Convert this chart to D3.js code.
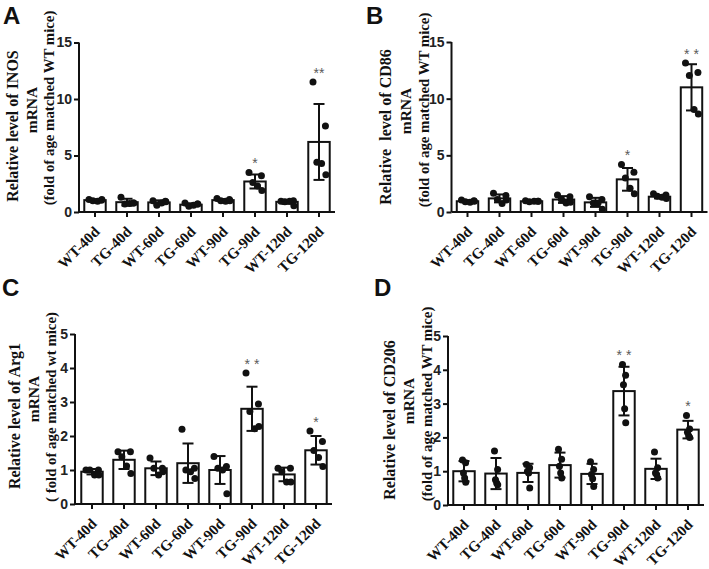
<!DOCTYPE html>
<html><head><meta charset="utf-8">
<script src="https://cdnjs.cloudflare.com/ajax/libs/d3/7.8.5/d3.min.js"></script>
<style>
html,body{margin:0;padding:0;background:#fff;}
svg{display:block;}
</style></head>
<body>
<script>
// ---------- data ----------
const categories = ["WT-40d","TG-40d","WT-60d","TG-60d","WT-90d","TG-90d","WT-120d","TG-120d"];

const inosMeans = [1.05, 0.87, 0.85, 0.65, 1.05, 2.7, 0.9, 6.2];
const inosSD    = [0.08, 0.3, 0.18, 0.12, 0.1, 0.62, 0.17, 3.36];
const inosPoints = [[1.1,1.05,1.0,0.95,1.1],[1.3,0.8,0.7,0.75,0.8],[1.0,0.95,0.6,0.8,0.9],[0.8,0.7,0.5,0.6,0.7],[1.2,1.1,1.0,0.95,1.0],[3.5,3.2,2.6,2.3,1.9],[0.95,1.0,0.9,0.95,0.55],[11.5,7.6,4.4,4.3,3.3]];
const inosSig = ["","","","","","*","","**"];

const cd86Means = [0.95, 1.2, 0.95, 1.1, 0.85, 2.88, 1.35, 11.0];
const cd86SD    = [0.08, 0.35, 0.05, 0.3, 0.4, 1.0, 0.15, 2.04];
const cd86Points = [[1.05,1.0,0.9,0.85,0.95],[1.65,1.45,1.1,0.75,1.05],[1.0,0.95,0.9,0.95,0.95],[1.5,1.35,1.1,0.8,0.85],[1.35,1.1,0.8,0.8,0.25],[4.2,3.5,3.0,2.1,1.6],[1.6,1.5,1.4,1.3,1.2],[13.15,12.3,12.05,9.05,8.65]];
const cd86Sig = ["","","","","","*","","* *"];

const arg1Means = [0.95, 1.3, 1.05, 1.2, 1.0, 2.8, 0.87, 1.58];
const arg1SD    = [0.08, 0.27, 0.2, 0.58, 0.41, 0.65, 0.2, 0.42];
const arg1Points = [[1.0,1.0,1.0,0.85,0.85],[1.54,1.54,1.39,1.12,0.9],[1.35,1.05,1.05,0.85,0.95],[2.2,1.05,1.0,0.95,0.75],[1.4,1.1,1.05,1.0,0.3],[3.85,2.94,2.72,2.21,2.28],[1.05,1.05,0.95,0.65,0.65],[2.15,1.84,1.57,1.37,1.1]];
const arg1Sig = ["","","","","","* *","","*"];

const cd206Means = [1.0, 0.93, 0.95, 1.18, 0.92, 3.37, 1.07, 2.23];
const cd206SD    = [0.3, 0.46, 0.27, 0.37, 0.3, 0.72, 0.3, 0.26];
const cd206Points = [[1.33,1.25,0.95,0.8,0.67],[1.6,1.05,0.75,0.65,0.6],[1.2,1.1,1.0,0.95,0.5],[1.65,1.35,1.15,0.95,0.8],[1.28,1.05,0.9,0.78,0.55],[4.16,3.84,3.56,2.85,2.43],[1.57,1.1,0.95,0.9,0.8],[2.65,2.25,2.15,2.05,2.0]];
const cd206Sig = ["","","","","","* *","","*"];

const ticks15 = [0, 5, 10, 15];
const ticks5 = [0, 1, 2, 3, 4, 5];

// ---------- layout ----------
const W = 709, H = 569;
const svg = d3.select("body").append("svg").attr("width", W).attr("height", H);

const panels = [
  {letter:"A", lx:3, ly:24, axisX:79, band:[79,335], y0:212, yTop:42.5, max:15, ticks:ticks15,
   means:inosMeans, sd:inosSD, pts:inosPoints, sig:inosSig, jit:1,
   labels:["Relative level of INOS","mRNA","(fold of age matched WT mice)"],
   labX:[12,31,49], labY:[126,110,108]},
  {letter:"B", lx:366, ly:24, axisX:451.5, band:[451.5,707.5], y0:212, yTop:42, max:15, ticks:ticks15,
   means:cd86Means, sd:cd86SD, pts:cd86Points, sig:cd86Sig, jit:1,
   labels:["Relative  level of CD86","mRNA","(fold of age matched WT mice)"],
   labX:[385,405,424], labY:[127,111,110]},
  {letter:"C", lx:2, ly:296, axisX:75, band:[76,332], y0:504, yTop:334, max:5, ticks:ticks5,
   means:arg1Means, sd:arg1SD, pts:arg1Points, sig:arg1Sig, jit:1,
   labels:["Relative level of Arg1","mRNA","( fold of age matched wt mice)"],
   labX:[14,33,51], labY:[416,399,407]},
  {letter:"D", lx:374, ly:296, axisX:448, band:[448,704], y0:505, yTop:336, max:5, ticks:ticks5,
   means:cd206Means, sd:cd206SD, pts:cd206Points, sig:cd206Sig, jit:0.25,
   labels:["Relative level of CD206","mRNA","(fold of age matched WT mice)"],
   labX:[389,408,427], labY:[420,401,404]}
];

const jitterPattern = [-0.28, 0.3, -0.1, 0.12, 0.32];

panels.forEach(p => {
  const g = svg.append("g");
  const x = d3.scaleBand().domain(categories).range(p.band).paddingInner(0.33).paddingOuter(0.165);
  const y = d3.scaleLinear().domain([0, p.max]).range([p.y0, p.yTop]);
  const bw = x.bandwidth();

  // panel letter
  svg.append("text").attr("x", p.lx).attr("y", p.ly)
    .attr("font-family", "Arial, 'Liberation Sans', sans-serif").attr("font-weight", "bold")
    .attr("font-size", 24).attr("fill", "#111").text(p.letter);

  // bars
  g.selectAll("rect.bar").data(categories).join("rect")
    .attr("x", d => x(d)).attr("width", bw)
    .attr("y", (d,i) => y(p.means[i])).attr("height", (d,i) => y(0) - y(p.means[i]))
    .attr("fill", "#fff").attr("stroke", "#111").attr("stroke-width", 2);

  // error bars
  categories.forEach((c, i) => {
    const cx = x(c) + bw/2;
    const hi = y(p.means[i] + p.sd[i]), lo = y(Math.max(0, p.means[i] - p.sd[i]));
    g.append("line").attr("x1", cx).attr("x2", cx).attr("y1", hi).attr("y2", lo)
      .attr("stroke", "#111").attr("stroke-width", 2);
    [hi, lo].forEach(yy => g.append("line").attr("x1", cx-5.5).attr("x2", cx+5.5)
      .attr("y1", yy).attr("y2", yy).attr("stroke", "#111").attr("stroke-width", 2));
    // points
    p.pts[i].forEach((v, k) => {
      g.append("circle").attr("cx", cx + jitterPattern[k]*bw*p.jit).attr("cy", y(v))
        .attr("r", 3.5).attr("fill", "#111");
    });
    // significance
    if (p.sig[i]) {
      const top = Math.min(y(p.means[i] + p.sd[i]), y(d3.max(p.pts[i])));
      g.append("text").attr("x", cx).attr("y", top - 4)
        .attr("text-anchor", "middle").attr("font-family", "Arial, 'Liberation Sans', sans-serif")
        .attr("font-size", 14).attr("fill", "#5a5a5a").text(p.sig[i]);
    }
  });

  // y axis
  const ya = d3.axisLeft(y).tickValues(p.ticks).tickSize(5).tickPadding(2).tickFormat(d3.format("d"));
  const yg = g.append("g").attr("transform", `translate(${p.axisX},0)`).call(ya);
  yg.select(".domain").attr("d", `M0,${p.yTop}V${p.y0}`).attr("stroke", "#111").attr("stroke-width", 2);
  yg.selectAll(".tick line").attr("stroke", "#111").attr("stroke-width", 2);
  yg.selectAll(".tick text").attr("font-family", "Arial, 'Liberation Sans', sans-serif")
    .attr("font-weight", "bold").attr("font-size", 14).attr("fill", "#222");

  // x axis
  const xa = d3.axisBottom(x).tickSize(5).tickSizeOuter(0);
  const xg = g.append("g").attr("transform", `translate(0,${p.y0})`).call(xa);
  xg.select(".domain").attr("d", `M${p.axisX},0H${p.band[1]}`).attr("stroke", "#111").attr("stroke-width", 2);
  xg.selectAll(".tick line").attr("stroke", "#111").attr("stroke-width", 2);
  xg.selectAll(".tick text")
    .attr("font-family", "'Liberation Serif', 'Times New Roman', serif").attr("font-weight", "bold")
    .attr("font-size", 15).attr("fill", "#111")
    .attr("text-anchor", "end").attr("y", 0).attr("dy", "0.35em")
    .attr("transform", "translate(2,17) rotate(-45)");

  // y label lines
  const sizes = [16, 15.5, 14.8];
  p.labels.forEach((t, k) => {
    svg.append("text")
      .attr("transform", `translate(${p.labX[k]},${p.labY[k]}) rotate(-90)`)
      .attr("text-anchor", "middle").attr("dominant-baseline", "central")
      .attr("font-family", "'Liberation Serif', 'Times New Roman', serif").attr("font-weight", "bold")
      .attr("font-size", sizes[k]).attr("fill", "#111")
      .style("white-space", "pre").text(t);
  });
});
</script>
</body></html>
